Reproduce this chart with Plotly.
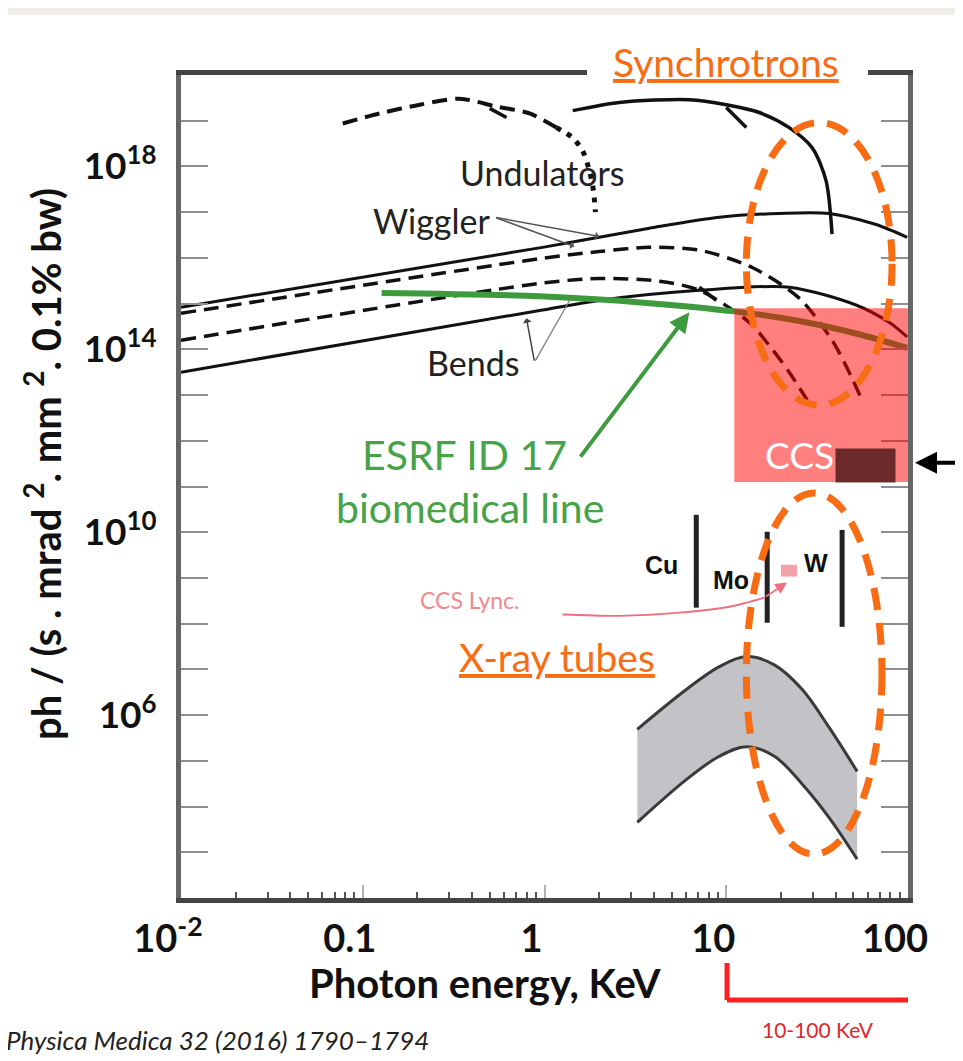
import numpy as np
import plotly.graph_objects as go

# ---------------- data (photon energy in keV, log10 of brilliance) ----------------
und_solid_E = [1.43, 2.58, 6.27, 10.0, 15.2, 22.2, 29.7, 35.4, 38.2]
und_solid_lb = [19.22, 19.40, 19.46, 19.35, 19.18, 18.85, 18.41, 17.69, 16.52]

und_dash_E = [0.0776, 0.124, 0.206, 0.341, 0.545, 0.828, 1.164]
und_dash_lb = [18.94, 19.16, 19.35, 19.48, 19.31, 19.16, 18.85]
und_dot_E = [1.164, 1.426, 1.618, 1.766, 1.858, 1.906]
und_dot_lb = [18.85, 18.63, 18.35, 17.91, 17.48, 17.0]

wig_solid_E = [0.01, 0.975, 3.78, 9.16, 19.5, 36.8, 66.7, 98.9]
wig_solid_lb = [14.92, 16.23, 16.65, 16.89, 16.97, 16.97, 16.73, 16.45]

wig_dash_E = [0.01, 0.975, 2.0, 3.78, 7.11, 13.9, 25.2, 38.2, 49.2, 55.2]
wig_dash_lb = [14.79, 15.99, 16.14, 16.23, 16.17, 15.79, 15.12, 14.20, 13.37, 12.93]

bend_dash_E = [0.01, 0.975, 2.0, 4.29, 7.11, 13.4, 17.2, 22.2, 27.9]
bend_dash_lb = [14.20, 15.45, 15.55, 15.49, 15.29, 14.59, 14.09, 13.50, 12.89]

bend_solid_E = [0.01, 0.975, 2.0, 7.11, 22.2, 51.7, 78.7, 98.9]
bend_solid_lb = [13.50, 14.86, 15.07, 15.29, 15.36, 14.97, 14.59, 14.27]

# small harmonic hooks drawn on the curves
hook_E = [[10.0, 12.9], [0.499, 0.618], [7.11, 8.81]]
hook_lb = [[19.29, 18.85], [19.27, 19.07], [15.36, 15.07]]

esrf_E = [0.127, 0.939, 3.78, 11.07, 25.2, 53.8, 98.9]
esrf_lb = [15.23, 15.16, 15.01, 14.83, 14.62, 14.33, 14.03]

tube_up_E = [3.24, 6.03, 9.16, 12.9, 18.4, 26.2, 36.8, 52.5]
tube_up_lb = [5.69, 6.56, 7.06, 7.28, 7.10, 6.56, 5.73, 4.77]
tube_lo_lb = [3.655, 4.59, 5.10, 5.31, 5.10, 4.49, 3.76, 2.85]

tube_names = ["Cu", "Mo", "W"]
tube_line_E = [6.84, 16.8, 43.4]
tube_line_lo = [8.35, 8.02, 7.93]
tube_line_hi = [10.38, 10.01, 10.05]

lync_E = [1.256, 2.58, 5.52, 10.4, 16.2]
lync_lb = [8.20, 8.17, 8.24, 8.37, 8.57]

ccs_box_E = [11.07, 100]
ccs_box_lb = [11.1, 14.9]
lync_box_E = [20.0, 24.5]
lync_box_lb = [9.03, 9.29]

x_tick_vals = [0.01, 0.1, 1, 10, 100]
x_tick_text = ["10<sup>-2</sup>", "0.1", "1", "10", "100"]
y_tick_exp = list(range(3, 20))
y_label_exp = [6, 10, 14, 18]

FONT = "Lato"
BLACK = "#111111"
ORANGE = "#F86C14"
GREEN = "#47A347"


def B(lb):
    return [10 ** v for v in lb]


fig = go.Figure()


def curve(E, lb, dash="solid", width=3, color=BLACK, shape="spline"):
    fig.add_trace(go.Scatter(x=E, y=B(lb), mode="lines",
                             line=dict(color=color, width=width, dash=dash, shape=shape, smoothing=0.8),
                             showlegend=False, hoverinfo="skip"))


DASH = "15px,8px"
curve(und_dash_E, und_dash_lb, DASH, 4)
curve(und_dot_E, und_dot_lb, "5px,7px", 5)
curve(und_solid_E, und_solid_lb, "solid", 3.5)
curve(wig_solid_E, wig_solid_lb, "solid", 3)
curve(wig_dash_E, wig_dash_lb, DASH, 3.5)
curve(bend_dash_E, bend_dash_lb, DASH, 3.5)
curve(bend_solid_E, bend_solid_lb, "solid", 3)
for hE, hl in zip(hook_E, hook_lb):
    curve(hE, hl, "solid", 3.5, BLACK, "linear")
curve(esrf_E, esrf_lb, "solid", 6, "#3D9B3D")

# X-ray tube band
fig.add_trace(go.Scatter(x=tube_up_E, y=B(tube_up_lb), mode="lines",
                         line=dict(color="#3a3a3a", width=3, shape="spline"),
                         showlegend=False, hoverinfo="skip"))
fig.add_trace(go.Scatter(x=tube_up_E, y=B(tube_lo_lb), mode="lines", fill="tonexty",
                         fillcolor="#C3C3C7",
                         line=dict(color="#3a3a3a", width=3, shape="spline"),
                         showlegend=False, hoverinfo="skip"))

# characteristic lines of tubes
for E, lo, hi in zip(tube_line_E, tube_line_lo, tube_line_hi):
    fig.add_trace(go.Scatter(x=[E, E], y=B([lo, hi]), mode="lines",
                             line=dict(color="#222222", width=5),
                             showlegend=False, hoverinfo="skip"))

# CCS Lync pointer curve
curve(lync_E, lync_lb, "solid", 1.8, "#EE6F7F")

shapes = []
# top beige strip
shapes.append(dict(type="rect", xref="paper", yref="paper", x0=-0.26, x1=1.1, y0=1.0729, y1=1.09,
                   fillcolor="#EFEDE6", line=dict(width=0), layer="above"))
# gap in the top frame behind "Synchrotrons"
shapes.append(dict(type="rect", xref="paper", yref="paper", x0=0.5585, x1=0.945, y0=0.9935, y1=1.009,
                   fillcolor="white", line=dict(width=0), layer="above"))
# CCS pink region
shapes.append(dict(type="rect", xref="x", yref="y", x0=ccs_box_E[0], x1=ccs_box_E[1],
                   y0=10 ** ccs_box_lb[0], y1=10 ** ccs_box_lb[1],
                   fillcolor="rgba(255,0,0,0.5)", line=dict(width=0), layer="above"))
# small CCS Lync box
shapes.append(dict(type="rect", xref="x", yref="y", x0=lync_box_E[0], x1=lync_box_E[1],
                   y0=10 ** lync_box_lb[0], y1=10 ** lync_box_lb[1],
                   fillcolor="#F4A2AA", line=dict(width=0), layer="above"))
# orange dashed ellipses
shapes.append(dict(type="circle", xref="x", yref="y", x0=12.9, x1=81.7, y0=10 ** 12.78, y1=10 ** 18.96,
                   line=dict(color=ORANGE, width=7, dash="22px,13px"), layer="above"))
shapes.append(dict(type="circle", xref="x", yref="y", x0=12.9, x1=71.9, y0=10 ** 2.96, y1=10 ** 10.86,
                   line=dict(color=ORANGE, width=7, dash="22px,13px"), layer="above"))
# red bracket 10-100 keV
RED = "#FF1F1F"
for (xa, ya, xb, yb) in [(10.1, -0.079, 10.1, -0.124), (10.1, -0.124, 104, -0.124), (104, -0.124, 104, -0.079)]:
    shapes.append(dict(type="line", xref="x", yref="paper", x0=xa, x1=xb, y0=ya, y1=yb,
                       line=dict(color=RED, width=5)))

L = np.log10
ann = []


def text(x, y, s, size, color=BLACK, bold=False, italic=False, family=FONT, **kw):
    d = dict(x=L(x), y=y, xref="x", yref="y", text=s, showarrow=False,
             xanchor="center", yanchor="middle",
             font=dict(family=family, size=size, color=color,
                       weight="bold" if bold else "normal",
                       style="italic" if italic else "normal"))
    d.update(kw)
    ann.append(d)


def ptext(x, y, s, size, color=BLACK, bold=False, italic=False, xanchor="center", **kw):
    d = dict(x=x, y=y, xref="paper", yref="paper", text=s, showarrow=False,
             xanchor=xanchor, yanchor="middle",
             font=dict(family=FONT, size=size, color=color,
                       weight="bold" if bold else "normal",
                       style="italic" if italic else "normal"))
    d.update(kw)
    ann.append(d)


def arrow(hx, hy, tx, ty, color, width, head=1, size=1.0):
    ann.append(dict(x=L(hx), y=hy, ax=L(tx), ay=ty, xref="x", yref="y", axref="x", ayref="y",
                    text="", showarrow=True, arrowhead=head, arrowsize=size, arrowwidth=width,
                    arrowcolor=color))


text(0.975, 17.87, "Undulators", 34, "#222")
text(0.239, 16.82, "Wiggler", 34, "#222")
text(0.402, 13.72, "Bends", 34, "#222")
text(0.363, 11.69, "ESRF ID 17", 41, GREEN)
text(0.388, 10.53, "biomedical line", 41, GREEN)
text(0.387, 8.52, "CCS Lync.", 23, "#F08A8F")
text(1.165, 7.28, "<u>X-ray tubes</u>", 39, ORANGE)
text(25.2, 11.69, "CCS", 37, "white")
for nm, xx, yy in zip(tube_names, [4.40, 10.6, 31.3], [9.29, 8.96, 9.33]):
    text(xx, yy, nm, 25, "#111", bold=True, family="Liberation Sans")

# dark box over the CCS label
ann.append(dict(x=L(58.1), y=11.45, xref="x", yref="y", text=" ", showarrow=False,
                width=57, height=31, bgcolor="rgba(70,20,20,0.8)", font=dict(size=10)))

# leader lines
arrow(2.0, 16.47, 0.531, 16.89, "#555", 1.5, 1, 0.9)
arrow(1.46, 16.25, 0.531, 16.89, "#555", 1.5, 1, 0.9)
arrow(0.796, 14.68, 0.881, 13.72, "#444", 1.5, 1, 1.0)
arrow(1.406, 15.14, 0.881, 13.72, "#777", 1.2, 0, 1.0)
arrow(6.27, 14.81, 1.556, 11.62, "#3D9B3D", 4, 2, 1.0)
arrow(21.6, 8.90, 16.2, 8.57, "#EE6F7F", 1.8, 2, 1.3)

# Synchrotrons title
ann.append(dict(x=L(10.0), y=1.0158, xref="x", yref="paper", text="<u>Synchrotrons</u>",
                xanchor="center", yanchor="middle",
                showarrow=False, font=dict(family=FONT, size=39, color=ORANGE)))
# right black arrow
ann.append(dict(x=1.0096, y=11.52, xref="paper", yref="y", ax=48, ay=0, text="",
                showarrow=True, arrowhead=2, arrowsize=1.1, arrowwidth=4, arrowcolor="black"))
# axis titles and notes
ptext(0.418, -0.1033, "Photon energy, KeV", 40, BLACK, bold=True)
ptext(-0.189, 0.527, "ph / (s . mrad <sup>2</sup>. mm <sup>2</sup>. 0.1% bw)", 40, BLACK, bold=True,
      textangle=-90)
ptext(0.876, -0.160, "10-100 KeV", 21, "#E0262B")
ptext(-0.2435, -0.1725, "Physica Medica 32 (2016) 1790–1794", 26, "#222", italic=True, xanchor="left")

minor_vals = [m * 10 ** d for d in range(-2, 2) for m in range(2, 10)]

fig.update_layout(
    width=963, height=1061,
    margin=dict(l=173, r=63, t=67, b=171),
    paper_bgcolor="white", plot_bgcolor="white",
    showlegend=False,
    shapes=shapes, annotations=ann,
    xaxis=dict(type="log", range=[-2, 2], showgrid=False, zeroline=False,
               showline=True, linecolor="#444", linewidth=5, mirror=True,
               ticks="inside", ticklen=13, tickwidth=2, tickcolor="#B0B0B0",
               tickvals=x_tick_vals, ticktext=x_tick_text,
               tickfont=dict(family=FONT, size=38, color=BLACK, weight="bold"),
               ticklabelshift=-13, ticklabelstandoff=3,
               minor=dict(tickvals=minor_vals, ticks="inside", ticklen=6, tickwidth=2, tickcolor="#555")),
    yaxis=dict(type="log", range=[2, 20], showgrid=False, zeroline=False,
               showline=True, linecolor="#666", linewidth=5, mirror="ticks",
               ticks="inside", ticklen=27, tickwidth=2, tickcolor="#8E8E8E",
               tickvals=[10 ** e for e in y_tick_exp],
               ticktext=["10<sup>%d</sup>" % e if e in y_label_exp else "" for e in y_tick_exp],
               tickfont=dict(family=FONT, size=37, color=BLACK, weight="bold"),
               ticklabelstandoff=12),
)

fig.write_html("out.html")
